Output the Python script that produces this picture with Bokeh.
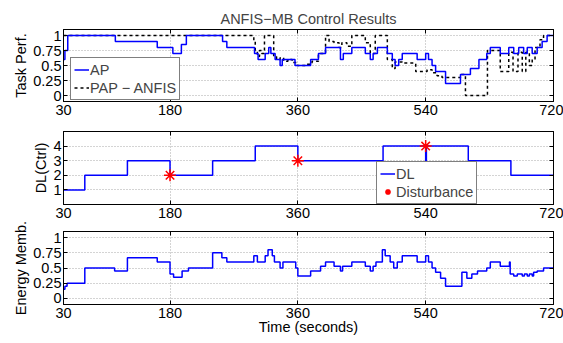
from bokeh.plotting import figure
from bokeh.layouts import column
from bokeh.models import (FixedTicker, LinearAxis, Range1d, Legend, LegendItem,
                          PrintfTickFormatter)
from bokeh.embed import file_html
from bokeh.resources import INLINE

FONT = "Liberation Sans"
FS = "14.5px"

# ---------------- data ----------------
time_ticks = [30, 180, 360, 540, 720]
unit_ticks = [0, 0.25, 0.5, 0.75, 1]
dl_ticks = [1, 2, 3, 4]

ap_t = [30, 32, 36, 103, 162, 184, 196, 203, 254, 260, 299, 304, 314, 319, 322,
        328, 335, 338, 356, 378, 389, 399, 420, 424, 436, 455, 462, 466, 472, 486,
        493, 497, 502, 507, 528, 540, 544, 549, 554, 568, 589, 603, 615, 626, 631,
        645, 657, 664, 671, 678, 683, 690, 697, 704, 711, 720]
ap_v = [0.6, 0.75, 1.0, 0.9, 0.8, 0.7, 0.85, 1.0, 0.9, 0.8, 0.7, 0.6, 0.7, 0.8, 0.7,
        0.6, 0.5, 0.6, 0.5, 0.6, 0.7, 0.8, 0.6, 0.7, 0.8, 0.7, 0.6, 0.7, 0.8, 0.7,
        0.6, 0.5, 0.6, 0.7, 0.6, 0.7, 0.6, 0.5, 0.4, 0.2, 0.35, 0.45, 0.6, 0.7, 0.8,
        0.7, 0.8, 0.7, 0.8, 0.7, 0.8, 0.7, 0.8, 0.9, 1.0, 1.0]

pap_t = [30, 298, 300, 303, 306, 309, 313, 326, 330, 335, 340, 346, 352, 359, 371,
         380, 389, 399, 404, 411, 418, 422, 429, 436, 455, 462, 469, 486, 493, 497,
         507, 526, 542, 549, 556, 563, 589, 596, 627, 645, 657, 663, 670, 676, 681,
         686, 690, 694, 701, 706, 720]
pap_v = [1.0, 0.9, 0.75, 0.65, 0.75, 0.7, 1.0, 0.65, 0.6, 0.63, 0.57, 0.6, 0.55, 0.5, 0.52,
         0.57, 0.7, 1.0, 0.9, 0.88, 0.8, 0.88, 0.82, 1.0, 0.88, 0.7, 1.0, 0.6, 0.45, 0.56,
         0.54, 0.4, 0.43, 0.38, 0.33, 0.3, 0.35, 0.0, 0.75, 0.4, 0.72, 0.4, 0.72, 0.4, 0.72,
         0.5, 0.6, 0.8, 0.93, 1.0, 1.0]

dl_t = [30, 60, 120, 180, 240, 300, 360, 480, 540, 541, 600, 660, 720]
dl_v = [1, 2, 3, 2, 3, 4, 3, 4, 3, 4, 3, 2, 2]

dist_t = [180, 360, 540]
dist_v = [2, 3, 4]

en_t = [30, 32, 35, 60, 102, 120, 162, 180, 185, 197, 206, 240, 253, 260, 298,
        303, 314, 318, 324, 327, 335, 339, 357, 360, 378, 392, 399, 411, 420, 423,
        436, 455, 462, 466, 470, 479, 483, 490, 495, 500, 507, 528, 540, 544, 549,
        554, 561, 568, 591, 598, 605, 613, 626, 631, 645, 658, 659, 664, 669, 676,
        679, 683, 686, 690, 692, 697, 706, 720]
en_v = [0.15, 0.2, 0.25, 0.5, 0.45, 0.67, 0.6, 0.4, 0.35, 0.45, 0.5, 0.75, 0.67, 0.6, 0.7,
        0.6, 0.7, 0.8, 0.7, 0.6, 0.5, 0.6, 0.5, 0.37, 0.45, 0.53, 0.6, 0.53, 0.45, 0.53,
        0.6, 0.53, 0.45, 0.53, 0.6, 0.8, 0.7, 0.6, 0.5, 0.6, 0.7, 0.6, 0.7, 0.6, 0.5,
        0.43, 0.33, 0.2, 0.43, 0.33, 0.4, 0.45, 0.5, 0.6, 0.53, 0.6, 0.4, 0.37, 0.4, 0.37,
        0.4, 0.37, 0.4, 0.37, 0.43, 0.45, 0.5, 0.5]

BLUE = "#0000ff"


def make_panel(height, top, bottom, yr, yticks, ylabel, fmt=None, xlabel=None):
    p = figure(width=563, height=height, output_backend="svg", toolbar_location=None,
               x_range=Range1d(30, 720), y_range=Range1d(*yr),
               min_border_left=63, min_border_right=10,
               min_border_top=top, min_border_bottom=bottom)
    p.outline_line_color = "black"
    p.outline_line_width = 1
    p.background_fill_color = "white"
    p.border_fill_color = "white"
    p.xaxis.ticker = FixedTicker(ticks=time_ticks)
    p.yaxis.ticker = FixedTicker(ticks=yticks)
    if fmt:
        p.yaxis.formatter = PrintfTickFormatter(format=fmt)
    for ax in (p.xaxis[0], p.yaxis[0]):
        ax.major_tick_in = 4
        ax.major_tick_out = 0
        ax.minor_tick_line_color = None
        ax.axis_line_color = "black"
        ax.major_tick_line_color = "black"
        ax.major_label_text_font = FONT
        ax.major_label_text_font_size = FS
        ax.major_label_text_color = "black"
        ax.axis_label_text_font = FONT
        ax.axis_label_text_font_size = FS
        ax.axis_label_text_font_style = "normal"
        ax.axis_label_text_color = "black"
    p.xaxis.major_label_standoff = 3
    p.yaxis.major_label_standoff = 2
    p.yaxis.axis_label = ylabel
    p.yaxis.axis_label_standoff = 1
    if xlabel:
        p.xaxis.axis_label = xlabel
        p.xaxis.axis_label_standoff = -2
    # mirrored tick marks on top / right (no labels)
    top_ax = LinearAxis(ticker=FixedTicker(ticks=time_ticks), major_label_text_font_size="1px",
                        major_label_text_color=None,
                        major_tick_in=4, major_tick_out=0, major_label_standoff=0,
                        minor_tick_line_color=None, axis_line_color="black")
    right_ax = LinearAxis(ticker=FixedTicker(ticks=yticks), major_label_text_font_size="1px",
                          major_label_text_color=None,
                          major_tick_in=4, major_tick_out=0, major_label_standoff=0,
                          minor_tick_line_color=None, axis_line_color="black")
    p.add_layout(top_ax, "above")
    p.add_layout(right_ax, "right")
    for g in (p.xgrid[0], p.ygrid[0]):
        g.grid_line_color = "#a8a8a8"
        g.grid_line_dash = "1 2"
        g.grid_line_width = 1
    return p


def style_legend(lg, loc):
    lg.location = loc
    lg.border_line_color = "black"
    lg.border_line_width = 1
    lg.background_fill_color = "white"
    lg.background_fill_alpha = 1
    lg.label_text_font = FONT
    lg.label_text_font_size = FS
    lg.glyph_width = 15
    lg.glyph_height = 17
    lg.label_height = 17
    lg.label_standoff = 1
    lg.spacing = 1
    lg.padding = 3
    lg.margin = 0


# ---- panel 1: task performance ----
p1 = make_panel(120, 29, 19, (-0.1, 1.1), unit_ticks, "Task Perf.", fmt="%g")
p1.title.text = "ANFIS\u2212MB Control Results"
p1.title.align = "center"
p1.title.text_font = FONT
p1.title.text_font_size = FS
p1.title.text_font_style = "normal"
p1.title.standoff = 5
r_pap = p1.step(pap_t, pap_v, mode="after", line_color="black", line_width=1.5,
                line_dash="3 3")
r_ap = p1.step(ap_t, ap_v, mode="after", line_color=BLUE, line_width=1.5)
lg1 = Legend(items=[LegendItem(label="AP", renderers=[r_ap]),
                    LegendItem(label="PAP \u2212 ANFIS", renderers=[r_pap])])
style_legend(lg1, (7, 1))
p1.add_layout(lg1)

# ---- panel 2: DL ----
p2 = make_panel(102, 11, 18, (0, 5), dl_ticks, "DL(Ctrl)")
r_dl = p2.step(dl_t, dl_v, mode="after", line_color=BLUE, line_width=1.5)
r_dist = p2.scatter(dist_t, dist_v, marker="asterisk", size=12, line_color="red",
                    line_width=1.5)
lg2 = Legend(items=[LegendItem(label="DL", renderers=[r_dl]),
                    LegendItem(label="Disturbance", renderers=[r_dist])])
style_legend(lg2, (313, 0))
p2.add_layout(lg2)

# ---- panel 3: energy ----
p3 = make_panel(121, 9, 39, (-0.1, 1.1), unit_ticks, "Energy Memb.", fmt="%g",
                xlabel="Time (seconds)")
p3.step(en_t, en_v, mode="after", line_color=BLUE, line_width=1.5)

layout = column(p1, p2, p3, spacing=0)
open("out.html", "w").write(file_html(layout, INLINE))
